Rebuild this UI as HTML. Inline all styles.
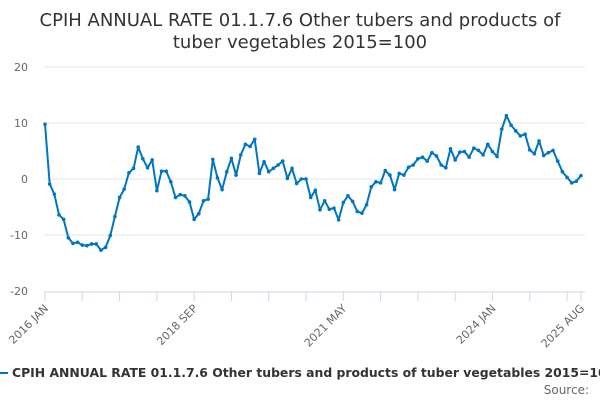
<!DOCTYPE html>
<html><head><meta charset="utf-8"><style>
html,body{margin:0;padding:0;background:#fff;width:600px;height:400px;overflow:hidden}
svg{display:block;font-family:"DejaVu Sans","Liberation Sans",sans-serif}
</style></head><body>
<svg id="chart" width="600" height="400">
<g>
<text x="300" y="26" text-anchor="middle" font-size="18" fill="#333">CPIH ANNUAL RATE 01.1.7.6 Other tubers and products of</text>
<text x="300" y="48" text-anchor="middle" font-size="18" fill="#333">tuber vegetables 2015=100</text>
</g>
<g id="grid"></g><g id="yticks"></g><g id="xaxis"></g><g id="series"></g>
<g>
<line x1="0" y1="373" x2="8" y2="373" stroke="#0076c0" stroke-width="2"/>
<text x="12" y="377" font-size="12.4" font-weight="bold" fill="#333">CPIH ANNUAL RATE 01.1.7.6 Other tubers and products of tuber vegetables 2015=100</text>
</g>
<text x="589" y="394" text-anchor="end" font-size="12" fill="#666">Source:</text>
</svg>
<script>
const values = [9.8,-0.9,-2.7,-6.4,-7.2,-10.5,-11.5,-11.3,-11.8,-11.9,-11.6,-11.6,-12.7,-12.2,-10.1,-6.7,-3.3,-1.8,1.1,1.9,5.7,3.6,2.0,3.4,-2.1,1.4,1.4,-0.5,-3.3,-2.8,-3.0,-4.1,-7.2,-6.2,-3.9,-3.6,3.5,0.2,-1.9,1.3,3.7,0.7,4.3,6.2,5.8,7.1,1.0,3.1,1.3,1.9,2.5,3.2,0.1,1.9,-0.8,0,0,-3.3,-2.0,-5.5,-3.9,-5.4,-5.2,-7.3,-4.2,-3.0,-4.0,-5.8,-6.1,-4.6,-1.4,-0.5,-0.7,1.5,0.7,-1.9,1.0,0.7,2.1,2.5,3.6,3.9,3.2,4.7,4.1,2.5,2.0,5.4,3.4,4.8,4.9,3.9,5.5,5.1,4.3,6.2,4.9,4.0,8.9,11.3,9.6,8.6,7.7,8.0,5.2,4.5,6.8,4.2,4.7,5.1,3.2,1.3,0.3,-0.7,-0.4,0.6];
const yTicks = [20,10,0,-10,-20];
const xLabels = ["2016 JAN","2018 SEP","2021 MAY","2024 JAN","2025 AUG"];
const xLabelIdx = [0,32,64,96,115];
const NS="http://www.w3.org/2000/svg";
const x0=45,x1=581,yTop=67,yBot=291;
function xs(i){return x0+(x1-x0)*i/(values.length-1);}
function ys(v){return yTop+(20-v)*(yBot-yTop)/40;}
function mk(t,a,p){const e=document.createElementNS(NS,t);for(const k in a)e.setAttribute(k,a[k]);p.appendChild(e);return e;}
const grid=document.getElementById('grid'),yt=document.getElementById('yticks'),xa=document.getElementById('xaxis'),se=document.getElementById('series');
yTicks.forEach(v=>{
  if(v!==-20){const l=mk('line',{x1:44,x2:585,y1:ys(v),y2:ys(v),stroke:'#e6e6e6','stroke-width':1},grid);
  
  }
  const t=mk('text',{x:28,y:ys(v)+4,'text-anchor':'end','font-size':11,fill:'#666'},yt);t.textContent=v;
  
  
});
const ax=mk('line',{x1:44,x2:585,y1:yBot+1,y2:yBot+1,stroke:'#ccd6eb','stroke-width':1},xa);


for(let i=0;i<values.length;i+=8){
  const tk=mk('line',{x1:xs(i),x2:xs(i),y1:yBot+1,y2:yBot+10,stroke:'#ccd6eb','stroke-width':1},xa);
  
  
}
const lt=mk('line',{x1:xs(115),x2:xs(115),y1:yBot+1,y2:yBot+10,stroke:'#ccd6eb','stroke-width':1},xa);


xLabels.forEach((s,k)=>{
  const x=xs(xLabelIdx[k]),y=yBot+12;
  const t=mk('text',{x:x+4,y:y+6,'text-anchor':'end','font-size':11,fill:'#666',transform:`rotate(-45 ${x+4} ${y+6})`},xa);t.textContent=s;
  
  
});
const pts=values.map((v,i)=>xs(i).toFixed(1)+','+ys(v).toFixed(1)).join(' ');
const pl=mk('polyline',{points:pts,fill:'none',stroke:'#0076c0','stroke-width':2,'stroke-linejoin':'round'},se);


values.forEach((v,i)=>{
  const c=mk('circle',{cx:xs(i),cy:ys(v),r:1.8,fill:'#0076c0'},se);
  
  
});
</script>
</body></html>
